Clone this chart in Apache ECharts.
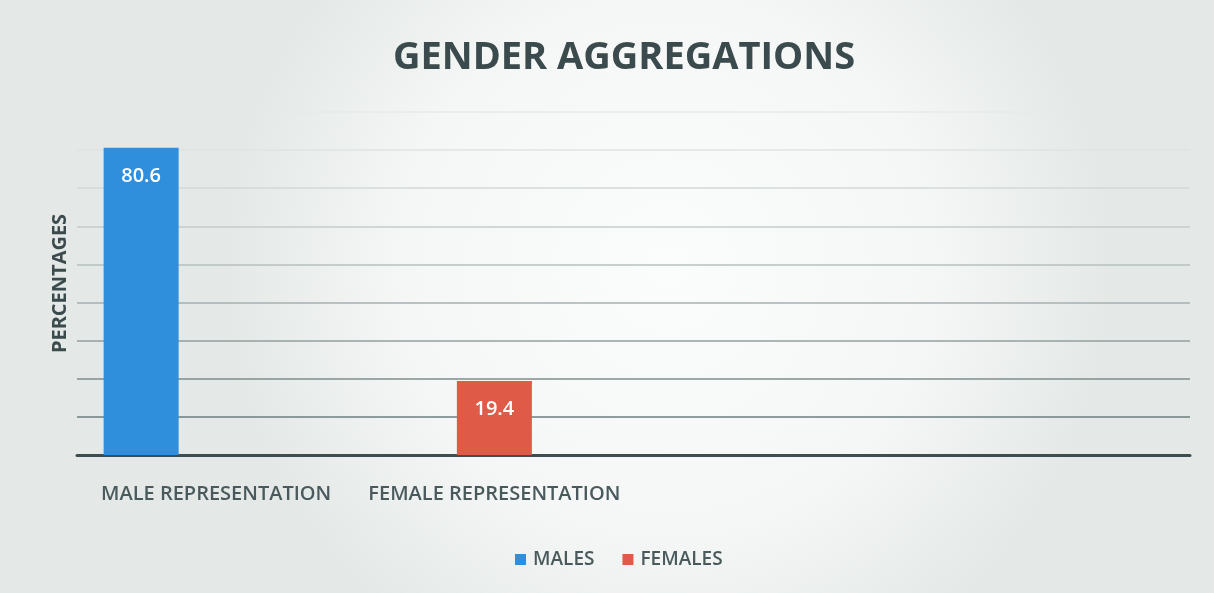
<!DOCTYPE html>
<html>
<head>
<meta charset="utf-8">
<script src="https://cdn.jsdelivr.net/npm/echarts@6/dist/echarts.min.js"></script>
<style>
    html, body { margin: 0; padding: 0; }
    #main { width: 1214px; height: 593px; }
</style>
</head>
<body>
<div id="main"></div>
<script>
// data
var categories = ['MALE REPRESENTATION', 'FEMALE REPRESENTATION', '', ''];
var males = [80.6, '-', '-', '-'];
var females = ['-', 19.4, '-', '-'];
var spare = ['-', '-', '-', '-'];

var myChart = echarts.init(document.getElementById('main'));

var labelStyle = {
    show: true,
    position: 'insideTop',
    distance: 18,
    color: '#ffffff',
    fontFamily: 'Open Sans',
    fontWeight: 600,
    fontSize: 20
};

var option = {
    backgroundColor: {
        type: 'radial', x: 0.55, y: 0.45, r: 0.75,
        colorStops: [
            {offset: 0, color: '#fbfdfc'},
            {offset: 0.6, color: '#f4f7f6'},
            {offset: 1, color: '#e4e8e7'}
        ]
    },
    title: {
        text: 'GENDER AGGREGATIONS',
        left: 388,
        top: 34,
        textStyle: {
            fontFamily: 'Open Sans',
            fontWeight: 'bold',
            fontSize: 38,
            color: '#3b4b4d'
        }
    },
    legend: {
        data: ['MALES', 'FEMALES'],
        bottom: 19,
        left: 510,
        itemWidth: 11,
        itemHeight: 11,
        itemGap: 28,
        icon: 'rect',
        textStyle: {
            fontFamily: 'Open Sans',
            fontWeight: 600,
            fontSize: 19,
            color: '#4a5a5c',
            padding: [0, 0, 0, 2]
        }
    },
    grid: {
        left: 77,
        right: 24,
        top: 112,
        bottom: 138
    },
    xAxis: {
        type: 'category',
        data: categories,
        axisTick: {show: false},
        axisLine: {lineStyle: {color: '#3e4e50', width: 3}},
        axisLabel: {
            margin: 29,
            interval: 0,
            fontFamily: 'Open Sans',
            fontWeight: 600,
            fontSize: 20,
            color: '#4a5a5c'
        }
    },
    yAxis: {
        type: 'value',
        min: 0,
        max: 90,
        interval: 10,
        name: 'PERCENTAGES',
        nameLocation: 'middle',
        nameGap: 7,
        nameTextStyle: {
            fontFamily: 'Open Sans',
            fontWeight: 'bold',
            fontSize: 20,
            color: '#3b4b4d'
        },
        axisLabel: {show: false},
        axisLine: {show: false},
        axisTick: {show: false},
        splitLine: {
            lineStyle: {
                width: 1.5,
                color: ['#5f6f70', '#6e7e7e', '#7f8d8d', '#939f9f', '#a6b0b0',
                        '#b7bfbf', '#c6cccc', '#d3d8d8', '#dfe3e3', '#e7eaea']
            }
        }
    },
    series: [
        {
            name: 'MALES',
            type: 'bar',
            data: males,
            barWidth: 75,
            barGap: '0%',
            itemStyle: {color: '#2f8fdc'},
            label: labelStyle
        },
        {
            name: 'FEMALES',
            type: 'bar',
            data: females,
            barWidth: 75,
            barGap: '0%',
            itemStyle: {color: '#e05a48'},
            label: labelStyle
        },
        {
            name: 'spare',
            type: 'bar',
            data: spare,
            barWidth: 75,
            barGap: '0%'
        }
    ]
};

myChart.setOption(option);
</script>
</body>
</html>
